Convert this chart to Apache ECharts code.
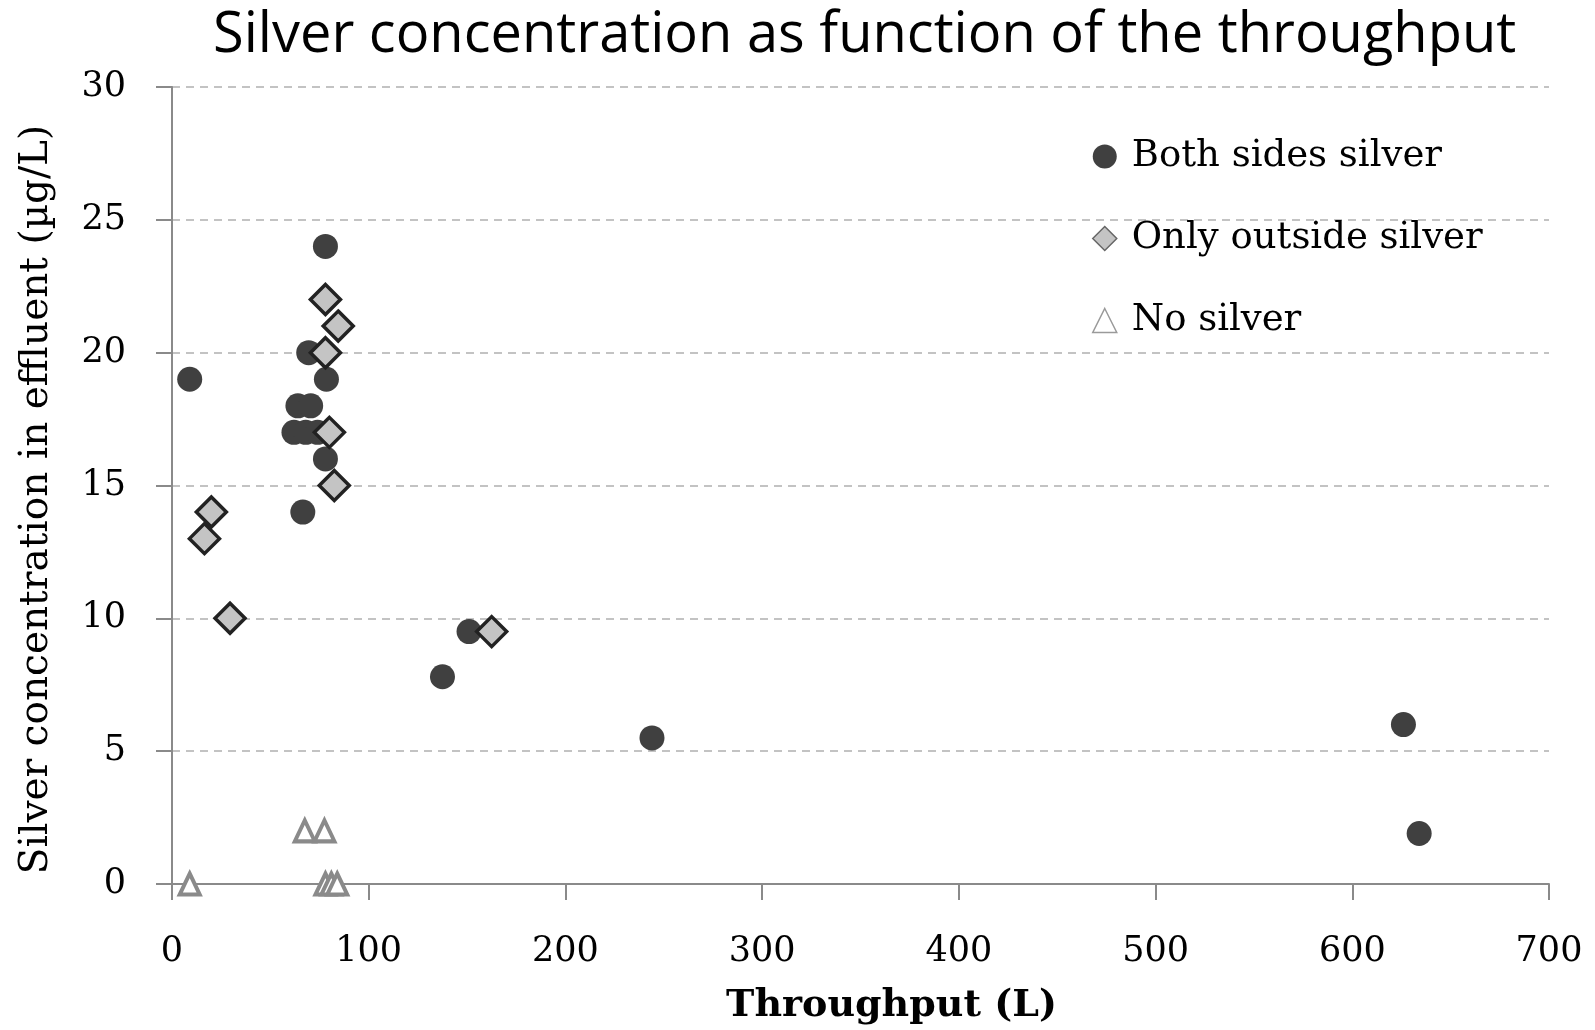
<!DOCTYPE html>
<html>
<head>
<meta charset="utf-8">
<title>Silver concentration as function of the throughput</title>
<script src="https://cdn.jsdelivr.net/npm/echarts@6/dist/echarts.min.js"></script>
<style>
  html, body { margin: 0; padding: 0; background: #ffffff; }
  #chart { width: 1595px; height: 1030px; }
</style>
</head>
<body>
<div id="chart"></div>
<script>
// Throughput (L) vs silver concentration in effluent (µg/L)
const bothSidesSilver = [
  [9, 19], [62, 17], [64, 18], [66.5, 14], [68, 17], [70.5, 18], [69.5, 20],
  [74, 17], [78, 24], [78.5, 19], [78, 16], [137.5, 7.8], [151, 9.5],
  [244, 5.5], [626, 6], [634, 1.9]
];
const onlyOutsideSilver = [
  [16.5, 13], [20, 14], [29.5, 10], [78, 22], [84.5, 21], [78, 20],
  [80, 17], [82.5, 15], [162.5, 9.5]
];
const noSilver = [
  [9, 0], [67.5, 2], [77.5, 2], [78, 0], [81, 0], [84, 0]
];
const xTicks = [0, 100, 200, 300, 400, 500, 600, 700];
const yTicks = [0, 5, 10, 15, 20, 25, 30];

const serif = '"DejaVu Serif", "Liberation Serif", serif';
const axisGrey = '#8a8a8a';

const chart = echarts.init(document.getElementById('chart'), null, { renderer: 'canvas' });

chart.setOption({
  animation: false,
  backgroundColor: '#ffffff',
  title: {
    text: 'Silver concentration as function of the throughput',
    left: 208,
    top: 3,
    textStyle: {
      fontFamily: '"Open Sans", "Noto Sans", sans-serif',
      fontWeight: 'normal',
      fontSize: 56,
      color: '#000000'
    }
  },
  grid: {
    left: 172,
    right: 46,
    top: 87,
    bottom: 146
  },
  legend: {
    orient: 'vertical',
    left: 1087,
    top: 133,
    itemWidth: 24,
    itemHeight: 24,
    itemGap: 45,
    textStyle: {
      fontFamily: serif,
      fontSize: 37,
      color: '#000000',
      lineHeight: 36,
      padding: [0, 0, 0, 10]
    },
    data: [
      { name: 'Both sides silver', icon: 'circle',
        itemStyle: { color: '#404040', borderWidth: 0 } },
      { name: 'Only outside silver', icon: 'diamond',
        itemStyle: { color: '#c4c4c4', borderColor: '#666666', borderWidth: 1.5 } },
      { name: 'No silver', icon: 'triangle',
        itemStyle: { color: '#ffffff', borderColor: '#9a9a9a', borderWidth: 1.5 } }
    ]
  },
  xAxis: {
    type: 'value',
    min: xTicks[0],
    max: xTicks[xTicks.length - 1],
    interval: 100,
    name: 'Throughput (L)',
    nameLocation: 'middle',
    nameGap: 103,
    nameTextStyle: {
      fontFamily: serif,
      fontWeight: 'bold',
      fontSize: 38,
      color: '#000000',
      padding: [0, 0, 0, 62]
    },
    axisLine: { show: true, lineStyle: { color: axisGrey, width: 2 } },
    axisTick: { show: true, inside: false, length: 16, lineStyle: { color: axisGrey, width: 2 } },
    axisLabel: {
      margin: 50,
      fontFamily: serif,
      fontSize: 35,
      color: '#000000'
    },
    splitLine: { show: false }
  },
  yAxis: {
    type: 'value',
    min: yTicks[0],
    max: yTicks[yTicks.length - 1],
    interval: 5,
    name: 'Silver concentration in effluent (µg/L)',
    nameLocation: 'middle',
    nameGap: 116,
    nameRotate: 90,
    nameTextStyle: {
      fontFamily: serif,
      fontSize: 39,
      color: '#000000',
      padding: [0, 28, 0, 0]
    },
    axisLine: { show: true, lineStyle: { color: axisGrey, width: 2 } },
    axisTick: { show: true, inside: false, length: 16, lineStyle: { color: axisGrey, width: 2 } },
    axisLabel: {
      margin: 46,
      fontFamily: serif,
      fontSize: 35,
      color: '#000000'
    },
    splitLine: {
      show: true,
      lineStyle: { color: '#c3c3c3', width: 2, type: [8, 6] }
    }
  },
  series: [
    {
      name: 'Both sides silver',
      type: 'scatter',
      symbol: 'circle',
      symbolSize: 25,
      itemStyle: { color: '#404040', opacity: 1 },
      data: bothSidesSilver,
      z: 2
    },
    {
      name: 'Only outside silver',
      type: 'scatter',
      symbol: 'diamond',
      symbolSize: 30,
      itemStyle: { color: '#c4c4c4', borderColor: '#222222', borderWidth: 3.5, opacity: 1 },
      data: onlyOutsideSilver,
      z: 3
    },
    {
      name: 'No silver',
      type: 'scatter',
      symbol: 'triangle',
      symbolSize: [20, 21],
      itemStyle: { color: '#ffffff', borderColor: '#8a8a8a', borderWidth: 4, opacity: 1 },
      data: noSilver,
      z: 4
    }
  ]
});
</script>
</body>
</html>
